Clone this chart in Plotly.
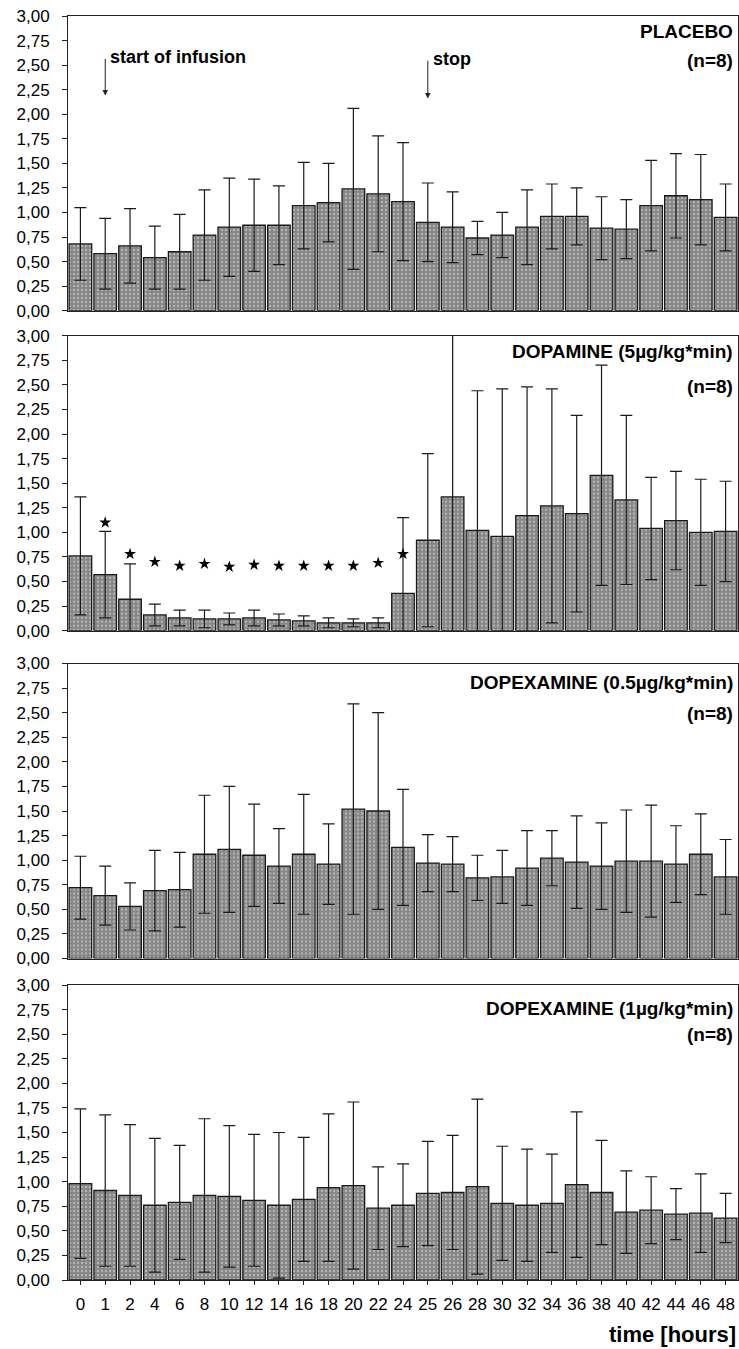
import plotly.graph_objects as go

# ---------------- data ----------------
times = ["0", "1", "2", "4", "6", "8", "10", "12", "14", "16", "18", "20", "22", "24",
         "25", "26", "28", "30", "32", "34", "36", "38", "40", "42", "44", "46", "48"]

placebo_mean = [0.68, 0.58, 0.66, 0.54, 0.60, 0.77, 0.85, 0.87, 0.87, 1.07, 1.10, 1.24, 1.19, 1.11,
                0.90, 0.85, 0.74, 0.77, 0.85, 0.96, 0.96, 0.84, 0.83, 1.07, 1.17, 1.13, 0.95]
placebo_sd = [0.37, 0.36, 0.38, 0.32, 0.38, 0.46, 0.50, 0.47, 0.40, 0.44, 0.40, 0.82, 0.59, 0.60,
              0.40, 0.36, 0.17, 0.23, 0.38, 0.33, 0.29, 0.32, 0.30, 0.46, 0.43, 0.46, 0.34]

dopamine_mean = [0.76, 0.57, 0.32, 0.16, 0.13, 0.12, 0.12, 0.13, 0.11, 0.10, 0.08, 0.08, 0.08, 0.38,
                 0.92, 1.36, 1.02, 0.96, 1.17, 1.27, 1.19, 1.58, 1.33, 1.04, 1.12, 1.00, 1.01]
dopamine_sd = [0.60, 0.44, 0.36, 0.11, 0.08, 0.09, 0.06, 0.08, 0.06, 0.05, 0.05, 0.04, 0.05, 0.77,
               0.88, 1.80, 1.42, 1.50, 1.31, 1.19, 1.00, 1.12, 0.86, 0.52, 0.50, 0.54, 0.51]

dopex05_mean = [0.72, 0.64, 0.53, 0.69, 0.70, 1.06, 1.11, 1.05, 0.94, 1.06, 0.96, 1.52, 1.50, 1.13,
                0.97, 0.96, 0.82, 0.83, 0.92, 1.02, 0.98, 0.94, 0.99, 0.99, 0.96, 1.06, 0.83]
dopex05_sd = [0.32, 0.30, 0.24, 0.41, 0.38, 0.60, 0.64, 0.52, 0.38, 0.61, 0.41, 1.07, 1.00, 0.59,
              0.29, 0.28, 0.23, 0.27, 0.38, 0.28, 0.47, 0.44, 0.52, 0.57, 0.39, 0.41, 0.38]

dopex1_mean = [0.98, 0.91, 0.86, 0.76, 0.79, 0.86, 0.85, 0.81, 0.76, 0.82, 0.94, 0.96, 0.73, 0.76,
               0.88, 0.89, 0.95, 0.78, 0.76, 0.78, 0.97, 0.89, 0.69, 0.71, 0.67, 0.68, 0.63]
dopex1_sd = [0.76, 0.77, 0.72, 0.68, 0.58, 0.78, 0.72, 0.67, 0.74, 0.63, 0.75, 0.85, 0.42, 0.42,
             0.53, 0.58, 0.89, 0.58, 0.57, 0.50, 0.74, 0.53, 0.42, 0.34, 0.26, 0.40, 0.25]

# significance markers (dopamine panel)
star_times = ["1", "2", "4", "6", "8", "10", "12", "14", "16", "18", "20", "22", "24"]
star_y = [1.10, 0.78, 0.70, 0.66, 0.68, 0.65, 0.67, 0.66, 0.66, 0.66, 0.66, 0.69, 0.78]

# infusion events (panel 1): time label, arrow tip / tail heights
events = ["start of infusion", "stop"]
event_times = ["1", "25"]
event_tip = [2.19, 2.16]
event_tail = [2.58, 2.56]

panel_titles = ["PLACEBO", "DOPAMINE (5µg/kg*min)", "DOPEXAMINE (0.5µg/kg*min)", "DOPEXAMINE (1µg/kg*min)"]
panel_n = ["(n=8)", "(n=8)", "(n=8)", "(n=8)"]
y_ticks = [0, 0.25, 0.5, 0.75, 1.0, 1.25, 1.5, 1.75, 2.0, 2.25, 2.5, 2.75, 3.0]

# ---------------- layout geometry ----------------
W, H = 739, 1349
ML, MR, MT, MB = 68, 1, 16, 69
PH = H - MT - MB
panel_px = [(16, 310.7), (335.7, 630.7), (663.5, 958.5), (985, 1280)]
title_off = [(15.7, 44.3), (15.3, 50.3), (19.0, 49.5), (23.0, 49.5)]

def pdom(top, bot):
    return [(H - MB - bot) / PH, (H - MB - top) / PH]

FONT = "Liberation Sans, Arial, sans-serif"
series = [(placebo_mean, placebo_sd), (dopamine_mean, dopamine_sd),
          (dopex05_mean, dopex05_sd), (dopex1_mean, dopex1_sd)]

fig = go.Figure()
for i, (m, sd) in enumerate(series):
    xa = "x" if i == 0 else f"x{i+1}"
    ya = "y" if i == 0 else f"y{i+1}"
    fig.add_trace(go.Bar(
        x=times, y=m, xaxis=xa, yaxis=ya,
        marker=dict(color="#858585", line=dict(color="#1a1a1a", width=1.3),
                    pattern=dict(shape=".", fillmode="overlay", fgcolor="#e0e0e0",
                                 size=4, solidity=0.3)),
        error_y=dict(type="data", array=sd, symmetric=True, color="#1a1a1a",
                     thickness=1.2, width=6),
        showlegend=False, hoverinfo="x+y",
    ))

fig.add_trace(go.Scatter(
    x=star_times, y=star_y, xaxis="x2", yaxis="y2", mode="markers",
    marker=dict(symbol="star", size=9, color="black"),
    showlegend=False, hoverinfo="skip",
))

layout = dict(
    width=W, height=H,
    margin=dict(l=ML, r=MR, t=MT, b=MB),
    paper_bgcolor="white", plot_bgcolor="white",
    separators=",.",
    bargap=0.09,
    font=dict(family=FONT, color="black", size=16),
)

annotations = []
for i in range(4):
    sfx = "" if i == 0 else str(i + 1)
    top, bot = panel_px[i]
    dom = pdom(top, bot)
    last = (i == 3)
    layout[f"xaxis{sfx}"] = dict(
        domain=[0, 1], anchor=f"y{sfx}", type="category",
        categoryorder="array", categoryarray=times,
        range=[-0.5, len(times) - 0.5],
        showline=True, mirror=True, linecolor="#222", linewidth=1,
        showgrid=False, zeroline=False,
        ticks="outside" if last else "", ticklen=4, tickcolor="#222",
        showticklabels=last, tickfont=dict(size=17, family=FONT),
        ticklabelstandoff=5,
    )
    layout[f"yaxis{sfx}"] = dict(
        domain=dom, anchor=f"x{sfx}", range=[0, 3],
        tickvals=y_ticks, tickformat=".2f",
        showline=True, mirror=True, linecolor="#222", linewidth=1,
        showgrid=False, zeroline=False,
        ticks="outside", ticklen=5, tickcolor="#222",
        tickfont=dict(size=17, family=FONT), ticklabelstandoff=9,
    )
    ph = bot - top
    t1, t2 = title_off[i]
    annotations.append(dict(
        text=f"<b>{panel_titles[i]}</b>", xref=f"x{sfx} domain", yref=f"y{sfx} domain",
        x=0.995, y=1 - t1 / ph, xanchor="right", yanchor="middle", showarrow=False,
        font=dict(size=19, family=FONT)))
    annotations.append(dict(
        text=f"<b>{panel_n[i]}</b>", xref=f"x{sfx} domain", yref=f"y{sfx} domain",
        x=0.995, y=1 - t2 / ph, xanchor="right", yanchor="middle", showarrow=False,
        font=dict(size=19, family=FONT)))

# infusion arrows (panel 1); category positions given by index on the category axis
for label, cat, tip, tail in zip(events, event_times, event_tip, event_tail):
    idx = times.index(cat)
    annotations.append(dict(
        text="", x=idx, y=tip, xref="x", yref="y", ax=idx, ay=tail, axref="x", ayref="y",
        showarrow=True, arrowhead=2, arrowsize=1.1, arrowwidth=1, arrowcolor="#222"))
    annotations.append(dict(
        text=f"<b>{label}</b>", x=idx, y=tail, xref="x", yref="y", xanchor="left",
        yanchor="middle", xshift=3, showarrow=False, font=dict(size=18, family=FONT)))

annotations.append(dict(
    text="<b>time [hours]</b>", xref="paper", yref="paper", x=1, y=(1280 - 1334) / PH,
    xanchor="right", yanchor="middle", showarrow=False, font=dict(size=22, family=FONT)))

layout["annotations"] = annotations
fig.update_layout(**layout)

fig.write_html("out.html", config={"displayModeBar": False},
               post_script="document.body.style.margin='0';document.body.style.overflow='hidden';")
